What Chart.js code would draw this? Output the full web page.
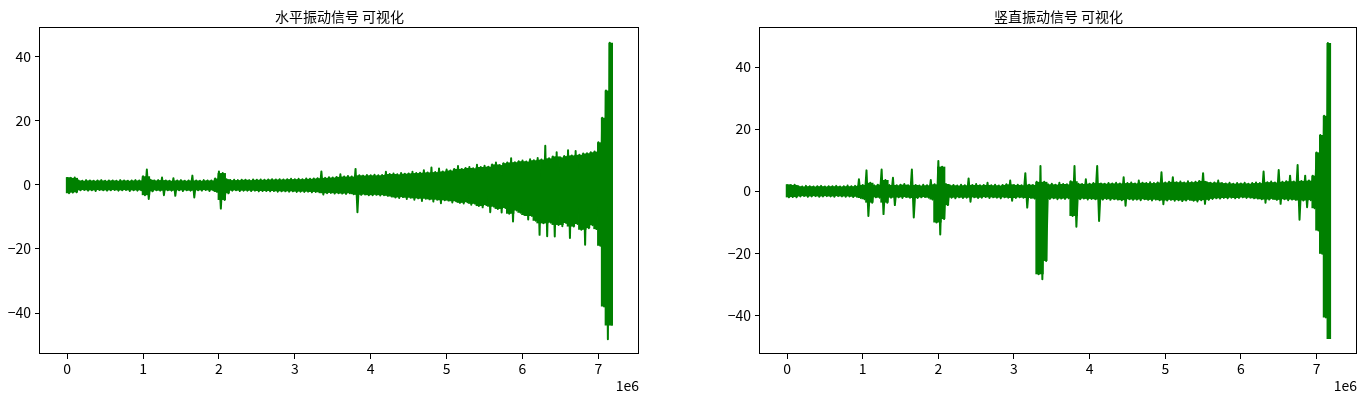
<!DOCTYPE html>
<html><head><meta charset="utf-8">
<script src="https://cdn.jsdelivr.net/npm/chart.js@4"></script>
<style>
html,body{margin:0;padding:0;background:#fff;width:1366px;height:402px;overflow:hidden;}
canvas{position:absolute;top:0;}
#c1{left:0px} #c2{left:683px}
</style></head><body>
<canvas id="c1" width="683" height="402"></canvas>
<canvas id="c2" width="683" height="402"></canvas>
<script>
const titles = ['水平振动信号 可视化', '竖直振动信号 可视化'];
const SAMPLE_STEP = 50000;            // samples per envelope bucket
const xTickValues = [0, 1, 2, 3, 4, 5, 6, 7];   // ×1e6
const yTickValues = [-40, -20, 0, 20, 40];
const xOffsetLabel = '1e6';

// horizontal signal: per-bucket max / min
const horizHigh = [2.4,2.2,2.3,
 1.4,1.3,1.5,1.4,1.3,1.4,1.5,1.3,1.4,1.4,1.3,1.5,1.4,1.3,1.4,1.5,1.4,
 2.7,4.8,1.6,1.4,1.5,
 2.3,1.4,1.3,2.1,1.4,1.5,1.3,1.4,
 2.9,1.4,1.3,1.5,1.4,1.4,
 2.0,4.2,3.7,1.8,
 1.5,1.6,1.5,1.6,1.6,1.5,1.7,1.6,1.7,1.6,1.7,1.8,1.7,1.8,1.7,1.8,1.9,1.8,1.9,1.8,2.0,1.9,2.0,2.1,
 4.2,2.2,2.4,2.3,2.5,
 3.3,2.6,2.8,2.6,
 5.0,3.0,2.9,3.1,
 3.0,3.2,3.0,3.1,4.1,
 3.4,3.6,3.3,3.7,3.5,3.6,4.1,3.7,3.8,4.6,3.9,5.4,4.0,5.1,4.2,
 4.8,4.5,5.0,5.9,5.0,5.3,5.6,5.2,6.3,5.6,6.0,5.7,6.4,7.0,6.2,6.8,7.0,8.3,7.1,7.4,
 7.6,7.3,8.0,7.7,8.4,7.9,12.2,8.3,8.9,10.2,8.6,9.0,10.8,9.2,10.6,9.4,9.8,9.9,10.2,10.4,
 13.3,21.0,29.5,44.4];
const horizLow = [-2.6,-2.4,-2.3,
 -1.7,-1.6,-1.8,-1.7,-1.9,-1.6,-1.7,-1.8,-1.7,-1.6,-1.8,-1.7,-1.6,-1.9,-1.7,-1.8,-1.7,
 -3.2,-4.4,-2.0,-1.7,-1.8,
 -3.2,-1.7,-1.8,-3.4,-1.7,-1.9,-1.7,-1.8,
 -3.9,-1.7,-1.8,-1.6,-1.9,-1.7,
 -2.2,-7.4,-4.7,-2.6,
 -1.8,-1.7,-1.9,-1.8,-1.8,-1.9,-1.8,-2.0,-1.9,-1.9,-2.0,-1.9,-2.1,-2.0,-2.0,-2.1,-2.0,-2.2,-2.1,-2.2,-2.1,-2.3,-2.2,-2.3,
 -3.0,-2.6,-2.5,-2.7,-2.6,
 -2.7,-2.8,-2.6,-2.9,
 -8.5,-3.1,-3.0,-3.2,
 -3.2,-3.1,-3.3,-3.2,-3.4,
 -3.6,-3.9,-4.1,-3.8,-4.4,-4.0,-4.6,-4.2,-5.0,-4.3,-4.5,-5.2,-4.6,-5.7,-4.8,
 -4.9,-5.5,-5.1,-5.6,-5.8,-5.4,-6.2,-5.9,-6.6,-7.0,-6.3,-8.5,-6.8,-7.5,-8.6,-7.2,-9.0,-11.4,-8.0,-8.7,
 -9.4,-10.8,-9.7,-11.2,-15.6,-12.0,-16.0,-11.8,-16.1,-12.5,-12.9,-11.9,-16.6,-13.0,-12.2,-14.0,-18.7,-13.5,-12.6,-13.8,
 -19.0,-38.0,-48.2,-43.9];

// vertical signal: per-bucket max / min
const vertHigh = [2.2,2.0,2.1,
 1.6,1.5,1.7,1.6,1.5,1.6,1.7,1.5,1.6,1.6,1.7,1.5,1.6,1.8,1.6,1.7,
 3.8,2.0,6.7,2.7,1.9,2.1,7.0,3.6,2.0,4.3,
 1.9,2.1,2.3,1.9,7.0,2.0,1.8,2.1,1.9,3.6,
 2.2,9.7,7.9,2.3,1.9,2.0,1.8,2.1,1.9,4.1,
 2.0,2.3,1.9,2.0,2.7,1.9,2.1,1.8,2.0,2.2,
 3.4,2.0,2.1,1.9,5.8,2.1,2.0,3.0,8.1,3.0,
 2.2,2.4,2.1,2.7,2.3,2.2,3.2,8.1,2.4,2.3,
 3.8,2.4,2.6,8.1,2.5,2.4,2.6,2.5,2.7,2.5,
 4.5,2.6,2.8,2.5,3.4,2.7,2.6,2.9,2.6,2.8,
 6.1,2.8,3.0,4.5,2.9,3.1,2.8,3.2,2.9,3.0,
 3.3,5.8,2.9,2.7,2.8,3.4,2.6,2.5,2.7,2.4,
 2.6,2.5,2.7,2.4,2.6,2.8,2.6,6.3,2.9,3.1,
 2.8,6.8,3.0,3.2,5.0,3.1,8.4,3.3,5.0,3.4,
 5.0,12.5,18.1,24.3,47.8];
const vertLow = [-2.0,-1.9,-2.0,
 -1.7,-1.6,-1.8,-1.7,-1.6,-1.8,-1.7,-1.6,-1.7,-1.8,-1.6,-1.7,-1.8,-1.7,-1.9,-1.8,
 -2.2,-2.6,-8.0,-3.7,-2.0,-2.1,-7.4,-3.7,-2.1,-4.5,
 -2.0,-2.2,-1.9,-2.1,-8.5,-2.2,-2.0,-1.9,-2.1,-2.7,
 -10.1,-14.0,-9.0,-4.5,-2.1,-2.3,-2.0,-2.2,-2.1,-3.4,
 -2.0,-2.2,-2.1,-1.9,-2.2,-2.0,-2.1,-2.3,-2.0,-2.1,
 -3.1,-2.2,-2.0,-2.1,-5.3,-2.2,-2.4,-26.8,-28.4,-22.5,
 -2.5,-2.3,-2.6,-2.4,-2.5,-2.3,-8.0,-11.5,-2.6,-2.4,
 -2.7,-2.5,-2.6,-9.6,-2.7,-2.5,-2.8,-2.6,-2.7,-2.9,
 -4.7,-2.6,-2.8,-2.7,-2.9,-2.6,-2.8,-3.0,-2.7,-2.9,
 -4.2,-3.0,-2.8,-3.1,-2.9,-3.2,-3.0,-2.8,-3.1,-3.3,
 -2.9,-4.1,-2.8,-2.5,-2.3,-2.4,-2.2,-2.3,-2.1,-2.3,
 -2.2,-2.0,-2.2,-2.1,-2.3,-2.4,-2.6,-3.7,-2.7,-2.5,
 -2.8,-4.1,-2.6,-2.9,-2.7,-2.8,-9.2,-3.0,-5.2,-2.9,
 -5.5,-12.7,-20.2,-40.7,-47.7];

const FONT = "'Noto Sans CJK SC', 'Microsoft YaHei', sans-serif";
const GREEN = '#008000';

// zig-zag through each bucket's max then min (what a dense signal plot shows)
function buildSeries(high, low) {
  const pts = [];
  for (let i = 0; i < high.length; i++) {
    pts.push({x: i * SAMPLE_STEP, y: high[i]});
    pts.push({x: i * SAMPLE_STEP + SAMPLE_STEP / 2, y: low[i]});
  }
  return pts;
}
// solid body of the dense signal: each bucket's range, trimmed to its neighbours
// so isolated spikes are left to the thin line
function buildBody(high, low) {
  const n = high.length;
  return high.map((h, i) => {
    const hp = high[Math.max(0, i - 1)], hn = high[Math.min(n - 1, i + 1)];
    const lp = low[Math.max(0, i - 1)], ln = low[Math.min(n - 1, i + 1)];
    const top = Math.min(h, Math.max(hp, hn));
    const bot = Math.max(low[i], Math.min(lp, ln));
    return {x: i * SAMPLE_STEP + SAMPLE_STEP / 4, y: [bot, top]};
  });
}

const decor = {
  id: 'decor',
  afterDatasetsDraw(chart, args, opts) {
    const ctx = chart.ctx, a = chart.chartArea;
    ctx.save();
    ctx.strokeStyle = '#000';
    ctx.lineWidth = 1;
    const l = Math.round(a.left) - 0.5, t = Math.round(a.top) - 0.5;
    const r = Math.round(a.right) - 0.5, b = Math.round(a.bottom) - 0.5;
    ctx.strokeRect(l, t, r - l, b - t);
    ctx.fillStyle = '#000';
    ctx.font = '14px ' + FONT;
    ctx.textAlign = 'center';
    ctx.textBaseline = 'middle';
    ctx.fillText(opts.title, (a.left + a.right) / 2, 16.5);
    ctx.textAlign = 'right';
    ctx.fillText(xOffsetLabel, a.right, 386);
    ctx.restore();
  }
};

function makeChart(id, title, high, low, ymin, ymax, padL, padR) {
  return new Chart(document.getElementById(id), {
    type: 'line',
    data: { datasets: [{
      type: 'line',
      order: 1,
      data: buildSeries(high, low),
      borderColor: GREEN,
      backgroundColor: GREEN,
      borderWidth: 2,
      pointRadius: 0,
      tension: 0,
      fill: false,
      borderJoinStyle: 'round',
      borderCapStyle: 'butt'
    }, {
      type: 'bar',
      order: 2,
      data: buildBody(high, low),
      backgroundColor: GREEN,
      borderWidth: 0,
      barPercentage: 1.2,
      categoryPercentage: 1.0,
      grouped: false
    }]},
    options: {
      responsive: false,
      animation: false,
      events: [],
      layout: { padding: { left: padL, right: padR, top: 28, bottom: 0 } },
      plugins: { legend: { display: false }, title: { display: false }, tooltip: { enabled: false }, decor: { title: title } },
      scales: {
        x: {
          type: 'linear', min: -358000, max: 7535000, offset: false,
          afterBuildTicks: s => { s.ticks = xTickValues.map(v => ({ value: v * 1e6 })); },
          afterFit: s => { s.height = 48; },
          grid: { display: true, offset: false, drawOnChartArea: false, drawTicks: true, tickLength: 5, color: '#000', lineWidth: 1 },
          border: { display: false },
          ticks: { color: '#000', font: { family: FONT, size: 14 }, padding: 1, maxRotation: 0,
                   callback: v => String(Math.round(v / 1e6)) }
        },
        y: {
          type: 'linear', min: ymin, max: ymax,
          afterBuildTicks: s => { s.ticks = yTickValues.map(v => ({ value: v })); },
          afterFit: s => { s.width = 40; },
          grid: { display: true, drawOnChartArea: false, drawTicks: true, tickLength: 5, color: '#000', lineWidth: 1 },
          border: { display: false },
          ticks: { color: '#000', font: { family: FONT, size: 14 }, padding: 4,
                   callback: v => v < 0 ? '\u2212' + Math.abs(v) : String(v) }
        }
      }
    },
    plugins: [decor]
  });
}

makeChart('c1', titles[0], horizHigh, horizLow, -52.8, 49.0, 0, 44);
makeChart('c2', titles[1], vertHigh, vertLow, -52.5, 52.6, 37, 9);
</script>
</body></html>
